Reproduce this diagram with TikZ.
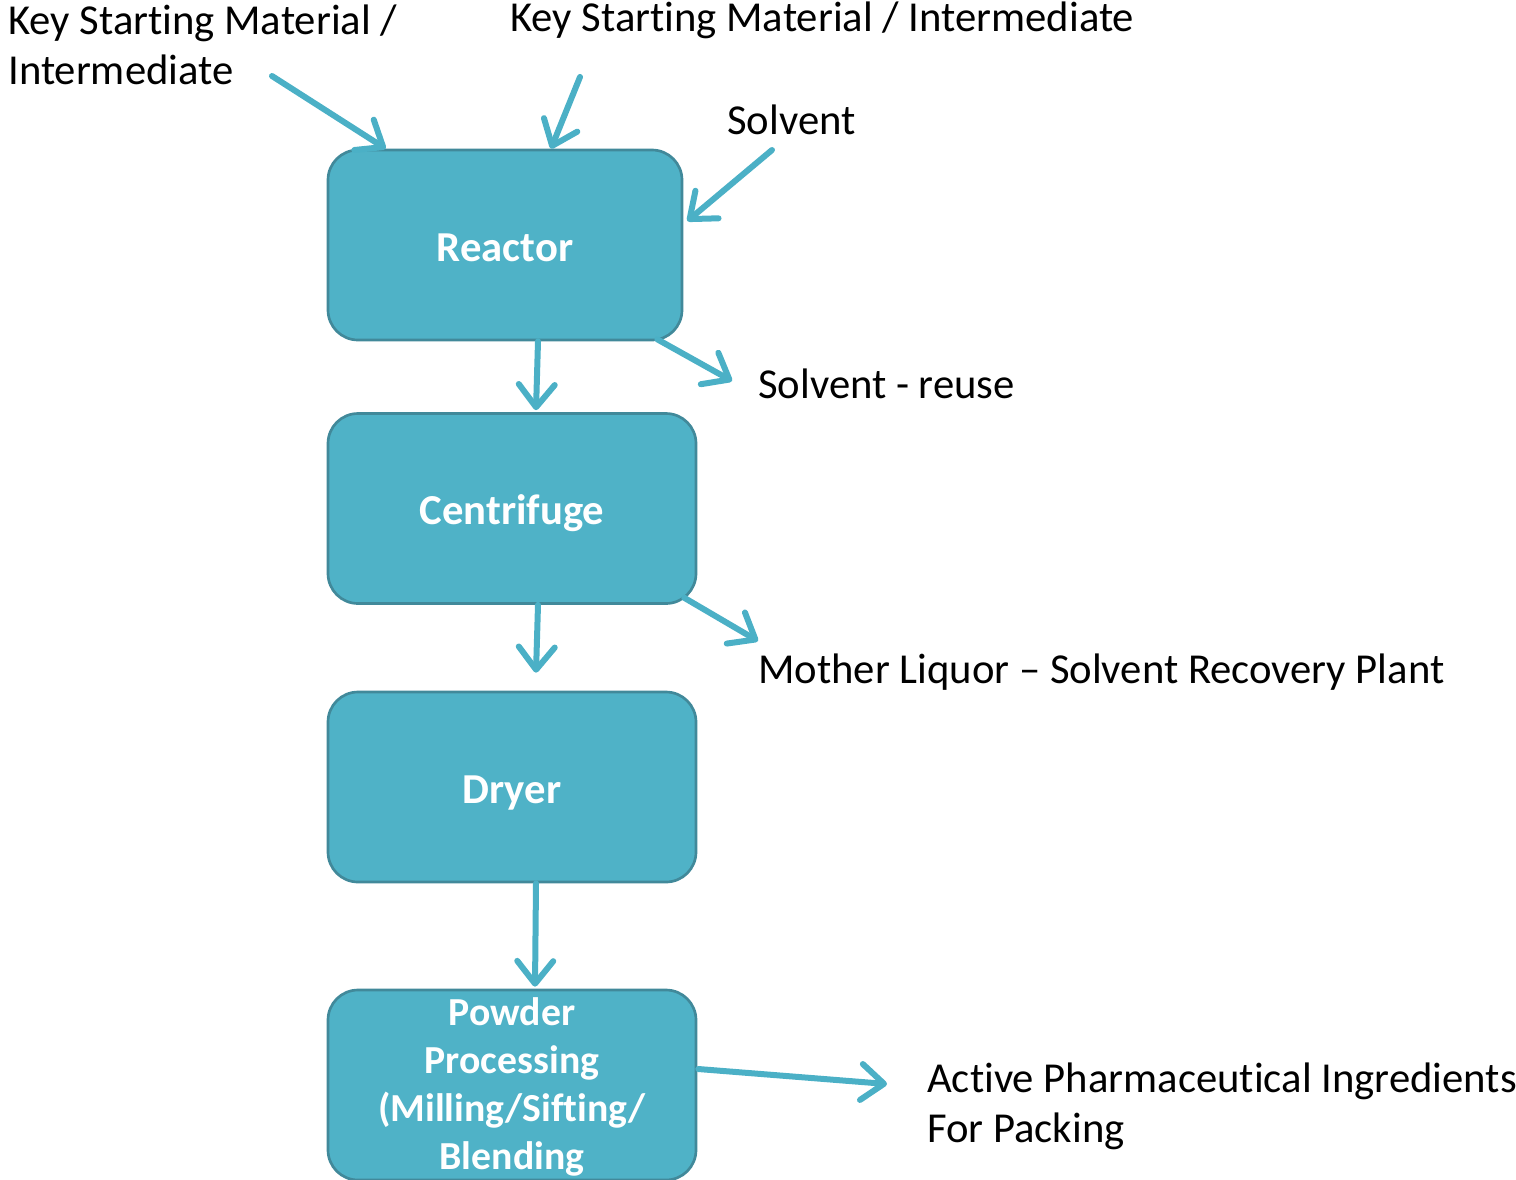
\documentclass[tikz,border=0pt]{standalone}
\usepackage{fontspec}
\setmainfont{Carlito}[Ligatures={TeX,NoCommon}]
\usetikzlibrary{arrows.meta,calc}
\definecolor{boxfill}{HTML}{4FB2C7}
\definecolor{boxline}{HTML}{41899A}
\definecolor{flow}{HTML}{4BB0C6}

\begin{document}
\begin{tikzpicture}[x=0.75pt,y=-0.75pt,
  stage/.style={draw=boxline, line width=2pt, fill=boxfill, rounded corners=22.5pt,
    inner sep=0pt, text=white, font=\fontsize{32}{36}\selectfont\bfseries,
    align=center, minimum height=142.5pt},
  oneline/.style={text height=24pt, text depth=0pt},
  lbl/.style={inner sep=0pt, anchor=west, align=left, font=\fontsize{32}{37.5}\selectfont},
  flowline/.style={draw=flow, line width=4.5pt, line cap=round,
    -{Straight Barb[length=17pt,width=27pt,round]}}]

\useasboundingbox (0,0) rectangle (1516,1179);

% process stages
\node[stage, oneline, minimum width=265.5pt] (reactor)    at (505,245)   {Reactor};
\node[stage, oneline, minimum width=276pt]   (centrifuge) at (512,508.5) {Centrifuge};
\node[stage, oneline, minimum width=276pt]   (dryer)      at (512,787)   {Dryer};
\node[stage, minimum width=276pt, text depth=1.5pt,
  font=\fontsize{29.8}{36}\selectfont\bfseries]
  (powder) at (512,1085) {Powder\\Processing\\(Milling/Sifting/\\Blending};

% inputs and outputs
\node[lbl] (ksma)    at (8,45)     {Key Starting Material /\\Intermediate};
\node[lbl] (ksmb)    at (510,20)   {Key Starting Material / Intermediate};
\node[lbl] (solvent) at (727,120)  {Solvent};
\node[lbl] (reuse)   at (758,384)  {Solvent - reuse};
\node[lbl] (mother)  at (758,672)  {Mother Liquor -- Solvent Recovery Plant};
\node[lbl] (api)     at (927,1106) {Active Pharmaceutical Ingredients\\For Packing};

% feed arrows
\coordinate (ksmaend) at (272,76);
\coordinate (ksmbend) at (580,77);
\coordinate (solvend) at (772,150);
\draw[flowline] (ksmaend) -- ($(reactor.north west)+(59,0)$);
\draw[flowline] (ksmbend) -- ($(reactor.north)+(46,0)$);
\draw[flowline] (solvend) -- ($(reactor.east)+(4,-24)$);

% main flow
\draw[flowline] ($(reactor.south)+(33,0)$) -- ($(centrifuge.north)+(24,-2)$);
\draw[flowline] ($(centrifuge.south)+(26,0)$) -- ($(dryer.north)+(24,-18)$);
\draw[flowline] ($(dryer.south)+(24,0)$) -- ($(powder.north)+(23,-2)$);

% side streams
\draw[flowline] ($(reactor.south east)+(-26,-2)$) -- ($(reuse.west)+(-26,-3)$);
\draw[flowline] ($(centrifuge.south east)+(-13,-7)$) -- ($(mother.west)+(0,-31)$);
\draw[flowline] ($(powder.east)+(1,-16)$) -- ($(api.west)+(-40,-22)$);

\end{tikzpicture}
\end{document}
